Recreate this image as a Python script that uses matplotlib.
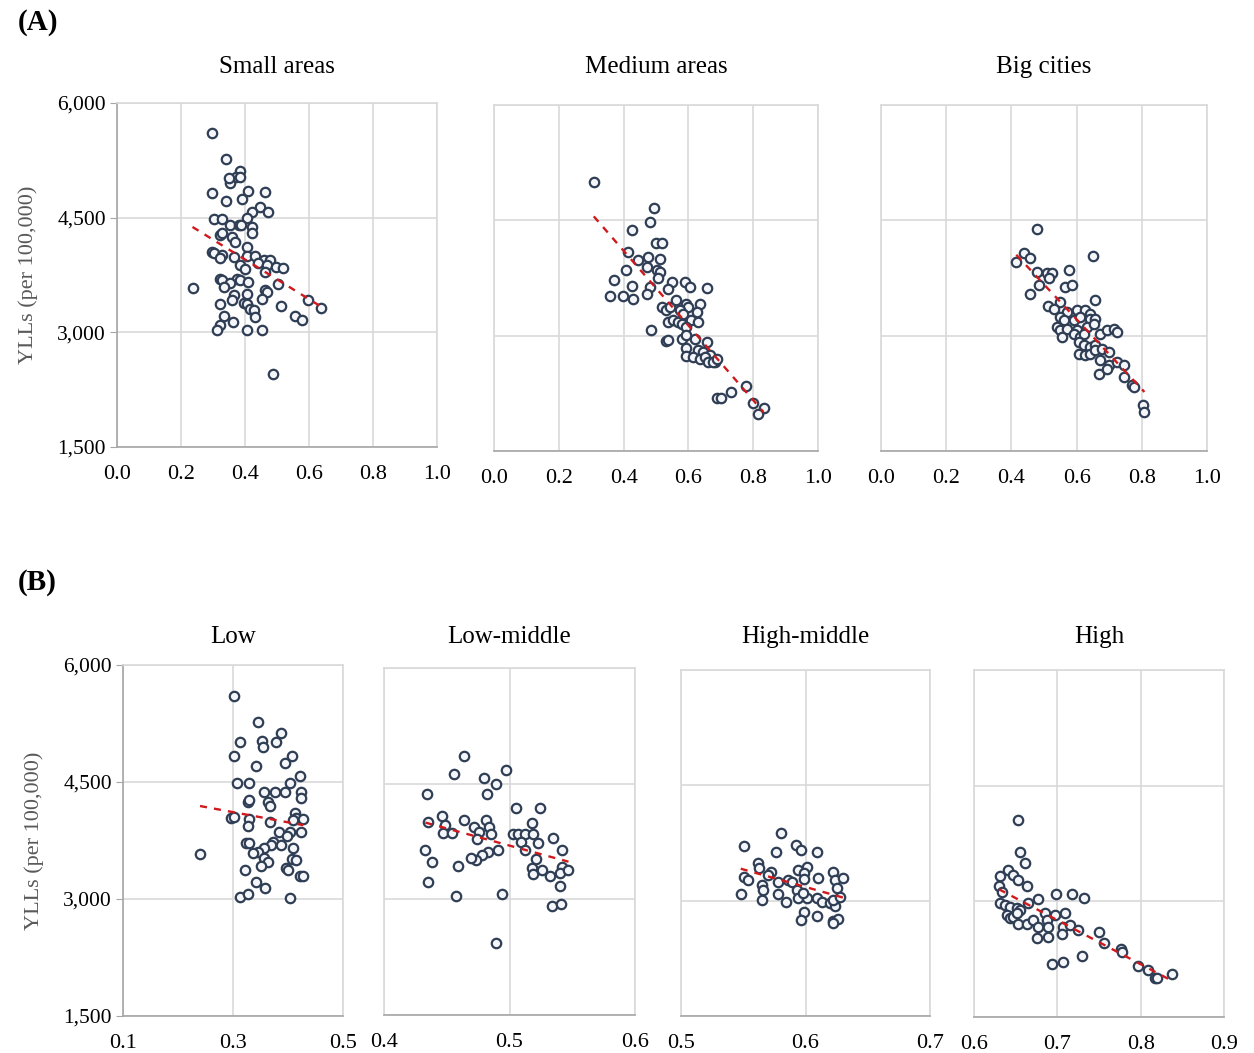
import numpy as np
import matplotlib
matplotlib.use("Agg")
import matplotlib.pyplot as plt
from matplotlib.ticker import FuncFormatter

plt.rcParams['font.family'] = ['Liberation Serif', 'DejaVu Serif']

# (A) by city size
small_x = [0.298, 0.342, 0.385, 0.373, 0.383, 0.354, 0.349, 0.298, 0.409, 0.461, 0.342, 0.390,
           0.447, 0.421, 0.473, 0.303, 0.329, 0.406, 0.354, 0.380, 0.387, 0.421, 0.421, 0.323,
           0.329, 0.360, 0.370, 0.406, 0.298, 0.303, 0.329, 0.323, 0.365, 0.406, 0.432, 0.458,
           0.479, 0.442, 0.385, 0.401, 0.469, 0.497, 0.518, 0.464, 0.323, 0.329, 0.375, 0.385,
           0.408, 0.354, 0.333, 0.236, 0.504, 0.464, 0.469, 0.365, 0.360, 0.406, 0.453, 0.321,
           0.396, 0.405, 0.416, 0.427, 0.432, 0.514, 0.597, 0.638, 0.556, 0.577, 0.333, 0.361,
           0.323, 0.311, 0.405, 0.453, 0.487]
small_y = [5606, 5265, 5112, 5029, 5029, 4950, 5016, 4819, 4850, 4841, 4719, 4740,
           4644, 4579, 4579, 4478, 4478, 4491, 4404, 4404, 4404, 4382, 4295, 4273,
           4295, 4251, 4185, 4120, 4054, 4032, 4010, 3967, 3988, 4002, 4002, 3945,
           3945, 3901, 3879, 3835, 3879, 3857, 3848, 3792, 3704, 3682, 3704, 3682,
           3660, 3647, 3595, 3586, 3638, 3551, 3529, 3485, 3420, 3507, 3442, 3376,
           3389, 3368, 3311, 3289, 3201, 3341, 3420, 3319, 3214, 3157, 3210, 3135,
           3092, 3035, 3026, 3035, 2449]

medium_x = [0.308, 0.494, 0.481, 0.427, 0.499, 0.517, 0.414, 0.445, 0.476, 0.512, 0.406, 0.471,
            0.502, 0.512, 0.370, 0.507, 0.427, 0.481, 0.358, 0.399, 0.430, 0.471, 0.548, 0.589,
            0.604, 0.656, 0.538, 0.520, 0.532, 0.543, 0.563, 0.594, 0.599, 0.635, 0.573, 0.584,
            0.625, 0.538, 0.553, 0.568, 0.579, 0.609, 0.630, 0.594, 0.486, 0.579, 0.594, 0.620,
            0.656, 0.532, 0.538, 0.592, 0.630, 0.645, 0.666, 0.681, 0.594, 0.615, 0.635, 0.651,
            0.661, 0.676, 0.687, 0.777, 0.730, 0.689, 0.702, 0.798, 0.832, 0.815]
medium_y = [5002, 4664, 4481, 4373, 4199, 4199, 4091, 3982, 4026, 3991, 3852, 3896,
            3852, 3830, 3722, 3744, 3644, 3635, 3518, 3518, 3483, 3548, 3700, 3700,
            3627, 3622, 3613, 3375, 3332, 3375, 3462, 3418, 3375, 3418, 3332, 3288,
            3310, 3180, 3201, 3180, 3158, 3201, 3180, 3115, 3080, 2963, 3006, 2963,
            2919, 2932, 2950, 2846, 2811, 2789, 2746, 2659, 2737, 2724, 2702, 2724,
            2659, 2659, 2702, 2347, 2268, 2195, 2195, 2130, 2065, 1978]

big_x = [0.479, 0.438, 0.458, 0.415, 0.650, 0.479, 0.509, 0.525, 0.514, 0.576, 0.484, 0.458,
         0.565, 0.586, 0.550, 0.657, 0.512, 0.530, 0.571, 0.601, 0.627, 0.642, 0.550, 0.560,
         0.591, 0.611, 0.642, 0.657, 0.540, 0.550, 0.571, 0.601, 0.632, 0.652, 0.555, 0.591,
         0.611, 0.622, 0.673, 0.693, 0.714, 0.724, 0.606, 0.622, 0.642, 0.657, 0.606, 0.627,
         0.642, 0.657, 0.678, 0.698, 0.673, 0.698, 0.724, 0.744, 0.668, 0.693, 0.744, 0.770,
         0.775, 0.804, 0.808]
big_y = [4382, 4069, 4013, 3961, 4039, 3830, 3817, 3809, 3744, 3852, 3657, 3548,
         3635, 3657, 3440, 3462, 3384, 3353, 3310, 3332, 3332, 3280, 3245, 3201,
         3201, 3245, 3223, 3223, 3115, 3071, 3093, 3071, 3115, 3158, 2984, 3028,
         2984, 3028, 3028, 3071, 3093, 3050, 2919, 2876, 2854, 2876, 2767, 2746,
         2767, 2811, 2832, 2789, 2681, 2616, 2659, 2616, 2507, 2572, 2464, 2355,
         2333, 2095, 2008]

# (B) by income group
low_x = [0.302, 0.346, 0.388, 0.313, 0.353, 0.355, 0.378, 0.302, 0.407, 0.394, 0.341, 0.421,
         0.308, 0.330, 0.403, 0.356, 0.377, 0.394, 0.424, 0.424, 0.327, 0.329, 0.364, 0.367,
         0.297, 0.302, 0.330, 0.327, 0.367, 0.412, 0.415, 0.409, 0.428, 0.383, 0.404, 0.424,
         0.398, 0.323, 0.330, 0.372, 0.369, 0.388, 0.357, 0.345, 0.336, 0.410, 0.240, 0.407,
         0.415, 0.356, 0.363, 0.351, 0.397, 0.400, 0.322, 0.422, 0.427, 0.341, 0.359, 0.313,
         0.327, 0.403]
low_y = [5603, 5273, 5124, 5017, 5030, 4944, 5017, 4833, 4833, 4739, 4705, 4577,
         4483, 4483, 4483, 4376, 4376, 4376, 4376, 4299, 4248, 4269, 4248, 4196,
         4034, 4055, 4025, 3940, 3983, 4098, 4034, 4013, 4021, 3863, 3863, 3863,
         3808, 3713, 3713, 3735, 3692, 3692, 3649, 3607, 3585, 3649, 3577, 3508,
         3500, 3521, 3478, 3423, 3393, 3372, 3372, 3295, 3295, 3222, 3137, 3030,
         3060, 3008]

lowmid_x = [0.464, 0.456, 0.480, 0.497, 0.489, 0.482, 0.434, 0.505, 0.524, 0.446, 0.449, 0.435,
            0.464, 0.481, 0.484, 0.472, 0.476, 0.447, 0.454, 0.474, 0.485, 0.518, 0.503, 0.507,
            0.512, 0.519, 0.509, 0.512, 0.523, 0.535, 0.491, 0.483, 0.478, 0.473, 0.469, 0.433,
            0.438, 0.459, 0.542, 0.521, 0.518, 0.519, 0.526, 0.542, 0.540, 0.547, 0.532, 0.435,
            0.540, 0.457, 0.494, 0.534, 0.541, 0.489]
lowmid_y = [4854, 4621, 4573, 4673, 4491, 4362, 4362, 4184, 4184, 4081, 3960, 4003,
            4024, 4024, 3938, 3938, 3873, 3860, 3860, 3787, 3852, 3994, 3852, 3852,
            3852, 3852, 3743, 3635, 3730, 3795, 3635, 3614, 3570, 3506, 3540, 3635,
            3484, 3428, 3635, 3527, 3406, 3324, 3376, 3419, 3341, 3376, 3298, 3225,
            3168, 3039, 3065, 2909, 2935, 2438]

highmid_x = [0.580, 0.551, 0.592, 0.596, 0.576, 0.609, 0.562, 0.563, 0.572, 0.570, 0.594, 0.601,
             0.599, 0.599, 0.551, 0.554, 0.622, 0.624, 0.630, 0.625, 0.610, 0.578, 0.586, 0.589,
             0.565, 0.566, 0.548, 0.578, 0.565, 0.584, 0.593, 0.594, 0.601, 0.598, 0.609, 0.613,
             0.620, 0.624, 0.622, 0.628, 0.599, 0.609, 0.596, 0.622, 0.626, 0.622]
highmid_y = [3876, 3715, 3724, 3659, 3637, 3637, 3486, 3421, 3377, 3334, 3399, 3442,
             3364, 3278, 3312, 3269, 3377, 3269, 3291, 3161, 3291, 3247, 3269, 3247,
             3204, 3139, 3087, 3087, 3009, 2987, 3139, 3031, 3031, 3096, 3031, 2987,
             2966, 2931, 3009, 3053, 2857, 2805, 2749, 2740, 2757, 2714]

high_x = [0.653, 0.655, 0.661, 0.631, 0.641, 0.647, 0.653, 0.663, 0.630, 0.633, 0.698, 0.718,
          0.732, 0.677, 0.631, 0.637, 0.643, 0.651, 0.665, 0.655, 0.639, 0.643, 0.647, 0.651,
          0.653, 0.663, 0.671, 0.677, 0.685, 0.687, 0.689, 0.697, 0.709, 0.707, 0.715, 0.725,
          0.675, 0.689, 0.706, 0.750, 0.756, 0.776, 0.778, 0.730, 0.693, 0.707, 0.797, 0.809,
          0.817, 0.819, 0.838]
high_y = [4055, 3644, 3493, 3328, 3406, 3341, 3276, 3199, 3199, 3125, 3095, 3095,
          3039, 3026, 2983, 2952, 2931, 2909, 2974, 2887, 2822, 2779, 2801, 2844,
          2706, 2706, 2758, 2671, 2844, 2758, 2671, 2822, 2844, 2671, 2693, 2628,
          2520, 2541, 2576, 2607, 2464, 2377, 2347, 2295, 2187, 2209, 2166, 2109,
          2010, 2001, 2057]

titles_a = ["Small areas", "Medium areas", "Big cities"]
titles_b = ["Low", "Low-middle", "High-middle", "High"]
xlim_b = [(0.1, 0.5), (0.4, 0.6), (0.5, 0.7), (0.6, 0.9)]

W, H = 1254, 1053
fig = plt.figure(figsize=(W / 100, H / 100), dpi=100)


def box(l, t, r, b):
    return [l / W, 1 - b / H, (r - l) / W, (b - t) / H]


def panel(rect, x, y, title, title_y, xlim, xticks, ylab):
    ax = fig.add_axes(rect)
    ax.scatter(x, y, s=46, facecolor='#f4f6f9', edgecolor='#2f3e55', linewidth=1.6, zorder=3)
    k, c = np.polyfit(x, y, 1)
    xs = np.array([min(x), max(x)])
    ax.plot(xs, k * xs + c, ls=(0, (3, 3)), color='#d0191c', lw=1.7, zorder=4)
    ax.set_xlim(*xlim)
    ax.set_ylim(1500, 6000)
    ax.set_xticks(xticks)
    ax.set_yticks([1500, 3000, 4500, 6000])
    ax.xaxis.set_major_formatter(FuncFormatter(lambda v, p: f"{v:.1f}"))
    ax.grid(True, color='#d9d9d9', lw=1.2, zorder=0)
    for s in ax.spines.values():
        s.set_color('#d9d9d9')
        s.set_linewidth(1.2)
    ax.spines['bottom'].set_color('#a6a6a6')
    ax.tick_params(axis='x', length=0, pad=13, labelsize=16, colors='black')
    if ylab:
        ax.spines['left'].set_color('#a6a6a6')
        ax.tick_params(axis='y', length=5, color='#a6a6a6', labelsize=15.5, pad=3)
        ax.yaxis.set_major_formatter(FuncFormatter(lambda v, p: f"{int(v):,}"))
        ax.set_ylabel("YLLs (per 100,000)", fontsize=16, color='#595959', labelpad=14)
    else:
        ax.tick_params(axis='y', length=0, labelleft=False)
    pos = ax.get_position()
    fig.text(pos.x0 + pos.width / 2, 1 - title_y / H, title, fontsize=18,
             ha='center', va='center')
    return ax


rects_a = [box(117, 103, 437, 447), box(494, 105, 818, 451), box(881, 105, 1207, 451)]
data_a = [(small_x, small_y), (medium_x, medium_y), (big_x, big_y)]
for i in range(3):
    panel(rects_a[i], data_a[i][0], data_a[i][1], titles_a[i], 67, (0, 1.0),
          np.arange(0, 1.01, 0.2), i == 0)

rects_b = [box(123, 665, 343, 1016), box(384, 668, 635, 1015),
           box(681, 670, 930, 1016), box(974, 670, 1224, 1017)]
data_b = [(low_x, low_y), (lowmid_x, lowmid_y), (highmid_x, highmid_y), (high_x, high_y)]
for i in range(4):
    lo, hi = xlim_b[i]
    step = 0.2 if i == 0 else 0.1
    panel(rects_b[i], data_b[i][0], data_b[i][1], titles_b[i], 637, xlim_b[i],
          np.arange(lo, hi + 0.001, step), i == 0)

fig.text(18 / W, 1 - 22 / H, "(A)", fontsize=21, fontweight='bold', va='center')
fig.text(18 / W, 1 - 583 / H, "(B)", fontsize=21, fontweight='bold', va='center')

fig.savefig("out.png", dpi=100, facecolor='white')
